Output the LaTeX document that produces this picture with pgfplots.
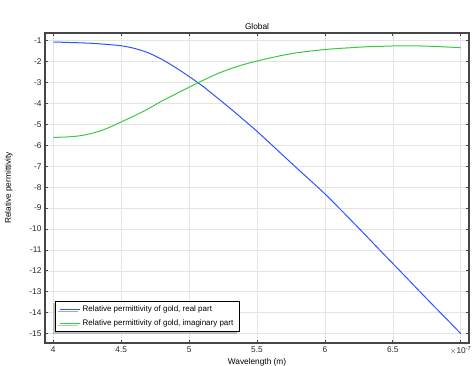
\documentclass[border=0pt]{standalone}
\usepackage{pgfplots}
\pgfplotsset{compat=1.18}
\usepackage{fontspec}
\setmainfont{Liberation Sans}
\usetikzlibrary{shadows}
\definecolor{cblue}{RGB}{45,85,255}
\definecolor{cgreen}{RGB}{60,200,70}
\definecolor{cgrid}{RGB}{228,228,228}
\definecolor{caxis}{RGB}{70,70,70}
\begin{document}
\begin{tikzpicture}
\useasboundingbox (0,0) rectangle (474pt,366pt);
\begin{axis}[
  at={(45pt,23pt)}, anchor=south west,
  scale only axis, width=424pt, height=310pt,
  xmin=3.939, xmax=7.061, ymin=-15.45, ymax=-0.63,
  xtick={4,4.5,5,5.5,6,6.5,7},
  xticklabels={4,4.5,5,5.5,6,6.5,{$\times$10\textsuperscript{-7}}},
  ytick={-15,-14,...,-1},
  /pgf/number format/assume math mode=true,
  tick label style={font=\fontsize{8.3}{9}\selectfont, text=black!85},
  grid=major, major grid style={cgrid, line width=0.6pt},
  axis line style={caxis, line width=1.2pt},
  tick style={caxis, line width=0.8pt}, major tick length=3pt,
  tick align=inside,
  title={Global}, title style={font=\fontsize{8.3}{9}\selectfont, yshift=-6.5pt},
  xlabel={Wavelength (m)}, xlabel style={font=\fontsize{8.3}{9}\selectfont, yshift=3pt},
  ylabel={Relative permittivity}, ylabel style={font=\fontsize{8.3}{9}\selectfont, yshift=10pt},
  legend cell align=left,
  legend style={at={(rel axis cs:0.024,0.035)}, anchor=south west,
    draw=black, line width=0.9pt, fill=white,
    drop shadow={shadow xshift=-2.5pt, shadow yshift=-2pt, fill=black!45},
    font=\fontsize{8}{9}\selectfont, row sep=2pt, inner xsep=4pt, inner ysep=3pt},
  legend image code/.code={\draw[#1] (0pt,0pt) -- (20pt,0pt);},
]
\addplot[cblue, line width=1pt, smooth] coordinates {
(4.0,-1.06) (4.1,-1.08) (4.2,-1.10) (4.3,-1.13) (4.4,-1.18) (4.5,-1.24)
(4.6,-1.37) (4.7,-1.58) (4.8,-1.89) (4.9,-2.28) (5.0,-2.71) (5.1,-3.17)
(5.2,-3.69) (5.3,-4.22) (5.4,-4.77) (5.5,-5.33) (5.6,-5.93) (5.7,-6.53)
(5.8,-7.13) (5.9,-7.72) (6.0,-8.32) (6.1,-8.97) (6.2,-9.63) (6.3,-10.30)
(6.4,-10.98) (6.5,-11.65) (6.6,-12.32) (6.7,-13.0) (6.8,-13.67) (6.9,-14.33) (7.0,-15.0)
};
\addlegendentry{Relative permittivity of gold, real part}
\addplot[cgreen, line width=1pt, smooth] coordinates {
(4.0,-5.62) (4.1,-5.60) (4.2,-5.54) (4.3,-5.40) (4.4,-5.18) (4.5,-4.88)
(4.6,-4.58) (4.7,-4.25) (4.8,-3.88) (4.9,-3.55) (5.0,-3.22) (5.1,-2.90)
(5.2,-2.60) (5.3,-2.35) (5.4,-2.14) (5.5,-1.97) (5.6,-1.82) (5.7,-1.68)
(5.8,-1.57) (5.9,-1.49) (6.0,-1.42) (6.1,-1.37) (6.2,-1.33) (6.3,-1.29)
(6.4,-1.27) (6.5,-1.25) (6.6,-1.24) (6.7,-1.25) (6.8,-1.27) (6.9,-1.30) (7.0,-1.33)
};
\addlegendentry{Relative permittivity of gold, imaginary part}
\end{axis}
\end{tikzpicture}
\end{document}
